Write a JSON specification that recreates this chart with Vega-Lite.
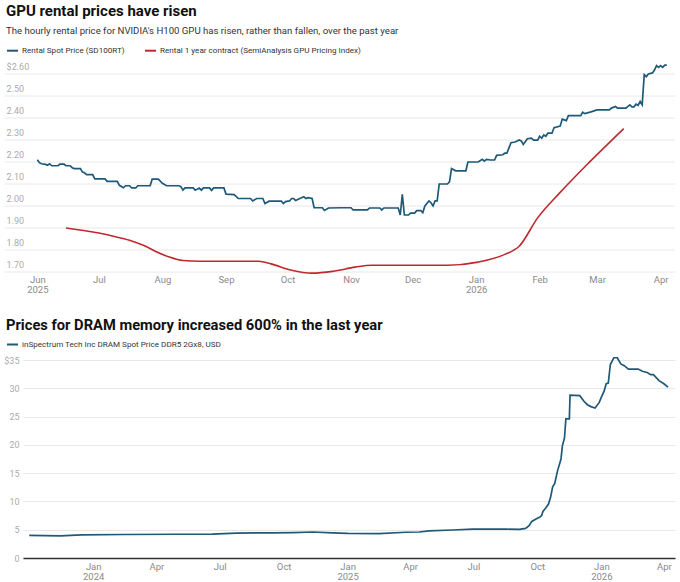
{
  "$schema": "https://vega.github.io/schema/vega-lite/v6.json",
  "padding": {"left": 3, "top": 4, "right": 0, "bottom": 0},
  "spacing": 24,
  "resolve": {"scale": {"color": "independent"}, "legend": {"color": "independent"}},
  "config": {
    "font": "Roboto",
    "view": {"stroke": null},
    "axis": {"labelFont": "Roboto", "ticks": false, "tickSize": 0, "labelOverlap": false, "labelFlush": false}
  },
  "datasets": {
    "gpu": [
      {"date": "2025-06-01", "price": 2.21, "series": "Rental Spot Price (SD100RT)"},
      {"date": "2025-06-02", "price": 2.197, "series": "Rental Spot Price (SD100RT)"},
      {"date": "2025-06-03", "price": 2.192, "series": "Rental Spot Price (SD100RT)"},
      {"date": "2025-06-05", "price": 2.189, "series": "Rental Spot Price (SD100RT)"},
      {"date": "2025-06-06", "price": 2.185, "series": "Rental Spot Price (SD100RT)"},
      {"date": "2025-06-07", "price": 2.192, "series": "Rental Spot Price (SD100RT)"},
      {"date": "2025-06-08", "price": 2.183, "series": "Rental Spot Price (SD100RT)"},
      {"date": "2025-06-11", "price": 2.183, "series": "Rental Spot Price (SD100RT)"},
      {"date": "2025-06-12", "price": 2.19, "series": "Rental Spot Price (SD100RT)"},
      {"date": "2025-06-14", "price": 2.19, "series": "Rental Spot Price (SD100RT)"},
      {"date": "2025-06-15", "price": 2.183, "series": "Rental Spot Price (SD100RT)"},
      {"date": "2025-06-17", "price": 2.183, "series": "Rental Spot Price (SD100RT)"},
      {"date": "2025-06-18", "price": 2.174, "series": "Rental Spot Price (SD100RT)"},
      {"date": "2025-06-19", "price": 2.17, "series": "Rental Spot Price (SD100RT)"},
      {"date": "2025-06-22", "price": 2.17, "series": "Rental Spot Price (SD100RT)"},
      {"date": "2025-06-23", "price": 2.154, "series": "Rental Spot Price (SD100RT)"},
      {"date": "2025-06-24", "price": 2.151, "series": "Rental Spot Price (SD100RT)"},
      {"date": "2025-06-25", "price": 2.143, "series": "Rental Spot Price (SD100RT)"},
      {"date": "2025-06-28", "price": 2.143, "series": "Rental Spot Price (SD100RT)"},
      {"date": "2025-06-29", "price": 2.123, "series": "Rental Spot Price (SD100RT)"},
      {"date": "2025-07-04", "price": 2.123, "series": "Rental Spot Price (SD100RT)"},
      {"date": "2025-07-05", "price": 2.112, "series": "Rental Spot Price (SD100RT)"},
      {"date": "2025-07-10", "price": 2.112, "series": "Rental Spot Price (SD100RT)"},
      {"date": "2025-07-11", "price": 2.094, "series": "Rental Spot Price (SD100RT)"},
      {"date": "2025-07-13", "price": 2.083, "series": "Rental Spot Price (SD100RT)"},
      {"date": "2025-07-14", "price": 2.092, "series": "Rental Spot Price (SD100RT)"},
      {"date": "2025-07-16", "price": 2.092, "series": "Rental Spot Price (SD100RT)"},
      {"date": "2025-07-17", "price": 2.082, "series": "Rental Spot Price (SD100RT)"},
      {"date": "2025-07-19", "price": 2.082, "series": "Rental Spot Price (SD100RT)"},
      {"date": "2025-07-20", "price": 2.092, "series": "Rental Spot Price (SD100RT)"},
      {"date": "2025-07-26", "price": 2.092, "series": "Rental Spot Price (SD100RT)"},
      {"date": "2025-07-27", "price": 2.122, "series": "Rental Spot Price (SD100RT)"},
      {"date": "2025-07-30", "price": 2.122, "series": "Rental Spot Price (SD100RT)"},
      {"date": "2025-08-01", "price": 2.103, "series": "Rental Spot Price (SD100RT)"},
      {"date": "2025-08-03", "price": 2.092, "series": "Rental Spot Price (SD100RT)"},
      {"date": "2025-08-09", "price": 2.092, "series": "Rental Spot Price (SD100RT)"},
      {"date": "2025-08-10", "price": 2.088, "series": "Rental Spot Price (SD100RT)"},
      {"date": "2025-08-11", "price": 2.072, "series": "Rental Spot Price (SD100RT)"},
      {"date": "2025-08-12", "price": 2.082, "series": "Rental Spot Price (SD100RT)"},
      {"date": "2025-08-16", "price": 2.082, "series": "Rental Spot Price (SD100RT)"},
      {"date": "2025-08-17", "price": 2.072, "series": "Rental Spot Price (SD100RT)"},
      {"date": "2025-08-19", "price": 2.082, "series": "Rental Spot Price (SD100RT)"},
      {"date": "2025-08-20", "price": 2.072, "series": "Rental Spot Price (SD100RT)"},
      {"date": "2025-08-21", "price": 2.082, "series": "Rental Spot Price (SD100RT)"},
      {"date": "2025-08-24", "price": 2.082, "series": "Rental Spot Price (SD100RT)"},
      {"date": "2025-08-25", "price": 2.071, "series": "Rental Spot Price (SD100RT)"},
      {"date": "2025-08-26", "price": 2.082, "series": "Rental Spot Price (SD100RT)"},
      {"date": "2025-08-31", "price": 2.082, "series": "Rental Spot Price (SD100RT)"},
      {"date": "2025-09-01", "price": 2.054, "series": "Rental Spot Price (SD100RT)"},
      {"date": "2025-09-05", "price": 2.052, "series": "Rental Spot Price (SD100RT)"},
      {"date": "2025-09-07", "price": 2.034, "series": "Rental Spot Price (SD100RT)"},
      {"date": "2025-09-13", "price": 2.034, "series": "Rental Spot Price (SD100RT)"},
      {"date": "2025-09-14", "price": 2.023, "series": "Rental Spot Price (SD100RT)"},
      {"date": "2025-09-16", "price": 2.034, "series": "Rental Spot Price (SD100RT)"},
      {"date": "2025-09-19", "price": 2.034, "series": "Rental Spot Price (SD100RT)"},
      {"date": "2025-09-20", "price": 2.011, "series": "Rental Spot Price (SD100RT)"},
      {"date": "2025-09-22", "price": 2.022, "series": "Rental Spot Price (SD100RT)"},
      {"date": "2025-09-28", "price": 2.022, "series": "Rental Spot Price (SD100RT)"},
      {"date": "2025-09-29", "price": 2.011, "series": "Rental Spot Price (SD100RT)"},
      {"date": "2025-09-30", "price": 2.02, "series": "Rental Spot Price (SD100RT)"},
      {"date": "2025-10-02", "price": 2.023, "series": "Rental Spot Price (SD100RT)"},
      {"date": "2025-10-03", "price": 2.034, "series": "Rental Spot Price (SD100RT)"},
      {"date": "2025-10-04", "price": 2.034, "series": "Rental Spot Price (SD100RT)"},
      {"date": "2025-10-05", "price": 2.025, "series": "Rental Spot Price (SD100RT)"},
      {"date": "2025-10-07", "price": 2.034, "series": "Rental Spot Price (SD100RT)"},
      {"date": "2025-10-09", "price": 2.042, "series": "Rental Spot Price (SD100RT)"},
      {"date": "2025-10-10", "price": 2.034, "series": "Rental Spot Price (SD100RT)"},
      {"date": "2025-10-11", "price": 2.038, "series": "Rental Spot Price (SD100RT)"},
      {"date": "2025-10-13", "price": 2.034, "series": "Rental Spot Price (SD100RT)"},
      {"date": "2025-10-14", "price": 1.992, "series": "Rental Spot Price (SD100RT)"},
      {"date": "2025-10-18", "price": 1.992, "series": "Rental Spot Price (SD100RT)"},
      {"date": "2025-10-19", "price": 1.98, "series": "Rental Spot Price (SD100RT)"},
      {"date": "2025-10-21", "price": 1.991, "series": "Rental Spot Price (SD100RT)"},
      {"date": "2025-10-27", "price": 1.992, "series": "Rental Spot Price (SD100RT)"},
      {"date": "2025-11-01", "price": 1.992, "series": "Rental Spot Price (SD100RT)"},
      {"date": "2025-11-02", "price": 1.982, "series": "Rental Spot Price (SD100RT)"},
      {"date": "2025-11-09", "price": 1.982, "series": "Rental Spot Price (SD100RT)"},
      {"date": "2025-11-10", "price": 1.991, "series": "Rental Spot Price (SD100RT)"},
      {"date": "2025-11-15", "price": 1.991, "series": "Rental Spot Price (SD100RT)"},
      {"date": "2025-11-16", "price": 1.982, "series": "Rental Spot Price (SD100RT)"},
      {"date": "2025-11-17", "price": 1.991, "series": "Rental Spot Price (SD100RT)"},
      {"date": "2025-11-24", "price": 1.991, "series": "Rental Spot Price (SD100RT)"},
      {"date": "2025-11-25", "price": 1.959, "series": "Rental Spot Price (SD100RT)"},
      {"date": "2025-11-26", "price": 2.053, "series": "Rental Spot Price (SD100RT)"},
      {"date": "2025-11-27", "price": 1.959, "series": "Rental Spot Price (SD100RT)"},
      {"date": "2025-11-29", "price": 1.959, "series": "Rental Spot Price (SD100RT)"},
      {"date": "2025-11-30", "price": 1.968, "series": "Rental Spot Price (SD100RT)"},
      {"date": "2025-12-02", "price": 1.968, "series": "Rental Spot Price (SD100RT)"},
      {"date": "2025-12-03", "price": 1.979, "series": "Rental Spot Price (SD100RT)"},
      {"date": "2025-12-05", "price": 1.979, "series": "Rental Spot Price (SD100RT)"},
      {"date": "2025-12-06", "price": 1.97, "series": "Rental Spot Price (SD100RT)"},
      {"date": "2025-12-07", "price": 2.0, "series": "Rental Spot Price (SD100RT)"},
      {"date": "2025-12-09", "price": 2.023, "series": "Rental Spot Price (SD100RT)"},
      {"date": "2025-12-10", "price": 2.015, "series": "Rental Spot Price (SD100RT)"},
      {"date": "2025-12-11", "price": 2.0, "series": "Rental Spot Price (SD100RT)"},
      {"date": "2025-12-12", "price": 2.023, "series": "Rental Spot Price (SD100RT)"},
      {"date": "2025-12-13", "price": 2.023, "series": "Rental Spot Price (SD100RT)"},
      {"date": "2025-12-14", "price": 2.1, "series": "Rental Spot Price (SD100RT)"},
      {"date": "2025-12-18", "price": 2.1, "series": "Rental Spot Price (SD100RT)"},
      {"date": "2025-12-19", "price": 2.11, "series": "Rental Spot Price (SD100RT)"},
      {"date": "2025-12-20", "price": 2.17, "series": "Rental Spot Price (SD100RT)"},
      {"date": "2025-12-22", "price": 2.16, "series": "Rental Spot Price (SD100RT)"},
      {"date": "2025-12-27", "price": 2.16, "series": "Rental Spot Price (SD100RT)"},
      {"date": "2025-12-28", "price": 2.2, "series": "Rental Spot Price (SD100RT)"},
      {"date": "2026-01-02", "price": 2.2, "series": "Rental Spot Price (SD100RT)"},
      {"date": "2026-01-04", "price": 2.212, "series": "Rental Spot Price (SD100RT)"},
      {"date": "2026-01-05", "price": 2.204, "series": "Rental Spot Price (SD100RT)"},
      {"date": "2026-01-06", "price": 2.212, "series": "Rental Spot Price (SD100RT)"},
      {"date": "2026-01-08", "price": 2.209, "series": "Rental Spot Price (SD100RT)"},
      {"date": "2026-01-10", "price": 2.209, "series": "Rental Spot Price (SD100RT)"},
      {"date": "2026-01-11", "price": 2.23, "series": "Rental Spot Price (SD100RT)"},
      {"date": "2026-01-14", "price": 2.233, "series": "Rental Spot Price (SD100RT)"},
      {"date": "2026-01-15", "price": 2.24, "series": "Rental Spot Price (SD100RT)"},
      {"date": "2026-01-16", "price": 2.24, "series": "Rental Spot Price (SD100RT)"},
      {"date": "2026-01-18", "price": 2.288, "series": "Rental Spot Price (SD100RT)"},
      {"date": "2026-01-20", "price": 2.291, "series": "Rental Spot Price (SD100RT)"},
      {"date": "2026-01-22", "price": 2.3, "series": "Rental Spot Price (SD100RT)"},
      {"date": "2026-01-23", "price": 2.296, "series": "Rental Spot Price (SD100RT)"},
      {"date": "2026-01-24", "price": 2.28, "series": "Rental Spot Price (SD100RT)"},
      {"date": "2026-01-26", "price": 2.306, "series": "Rental Spot Price (SD100RT)"},
      {"date": "2026-01-28", "price": 2.308, "series": "Rental Spot Price (SD100RT)"},
      {"date": "2026-01-29", "price": 2.299, "series": "Rental Spot Price (SD100RT)"},
      {"date": "2026-01-31", "price": 2.299, "series": "Rental Spot Price (SD100RT)"},
      {"date": "2026-02-01", "price": 2.317, "series": "Rental Spot Price (SD100RT)"},
      {"date": "2026-02-02", "price": 2.308, "series": "Rental Spot Price (SD100RT)"},
      {"date": "2026-02-03", "price": 2.323, "series": "Rental Spot Price (SD100RT)"},
      {"date": "2026-02-04", "price": 2.317, "series": "Rental Spot Price (SD100RT)"},
      {"date": "2026-02-05", "price": 2.331, "series": "Rental Spot Price (SD100RT)"},
      {"date": "2026-02-07", "price": 2.331, "series": "Rental Spot Price (SD100RT)"},
      {"date": "2026-02-08", "price": 2.356, "series": "Rental Spot Price (SD100RT)"},
      {"date": "2026-02-11", "price": 2.363, "series": "Rental Spot Price (SD100RT)"},
      {"date": "2026-02-12", "price": 2.395, "series": "Rental Spot Price (SD100RT)"},
      {"date": "2026-02-14", "price": 2.388, "series": "Rental Spot Price (SD100RT)"},
      {"date": "2026-02-15", "price": 2.411, "series": "Rental Spot Price (SD100RT)"},
      {"date": "2026-02-21", "price": 2.411, "series": "Rental Spot Price (SD100RT)"},
      {"date": "2026-02-22", "price": 2.426, "series": "Rental Spot Price (SD100RT)"},
      {"date": "2026-02-23", "price": 2.42, "series": "Rental Spot Price (SD100RT)"},
      {"date": "2026-02-26", "price": 2.428, "series": "Rental Spot Price (SD100RT)"},
      {"date": "2026-03-01", "price": 2.437, "series": "Rental Spot Price (SD100RT)"},
      {"date": "2026-03-07", "price": 2.437, "series": "Rental Spot Price (SD100RT)"},
      {"date": "2026-03-08", "price": 2.445, "series": "Rental Spot Price (SD100RT)"},
      {"date": "2026-03-10", "price": 2.452, "series": "Rental Spot Price (SD100RT)"},
      {"date": "2026-03-11", "price": 2.445, "series": "Rental Spot Price (SD100RT)"},
      {"date": "2026-03-15", "price": 2.445, "series": "Rental Spot Price (SD100RT)"},
      {"date": "2026-03-17", "price": 2.46, "series": "Rental Spot Price (SD100RT)"},
      {"date": "2026-03-18", "price": 2.451, "series": "Rental Spot Price (SD100RT)"},
      {"date": "2026-03-19", "price": 2.451, "series": "Rental Spot Price (SD100RT)"},
      {"date": "2026-03-20", "price": 2.463, "series": "Rental Spot Price (SD100RT)"},
      {"date": "2026-03-21", "price": 2.458, "series": "Rental Spot Price (SD100RT)"},
      {"date": "2026-03-22", "price": 2.475, "series": "Rental Spot Price (SD100RT)"},
      {"date": "2026-03-23", "price": 2.46, "series": "Rental Spot Price (SD100RT)"},
      {"date": "2026-03-24", "price": 2.597, "series": "Rental Spot Price (SD100RT)"},
      {"date": "2026-03-25", "price": 2.588, "series": "Rental Spot Price (SD100RT)"},
      {"date": "2026-03-26", "price": 2.6, "series": "Rental Spot Price (SD100RT)"},
      {"date": "2026-03-28", "price": 2.605, "series": "Rental Spot Price (SD100RT)"},
      {"date": "2026-03-29", "price": 2.618, "series": "Rental Spot Price (SD100RT)"},
      {"date": "2026-03-30", "price": 2.638, "series": "Rental Spot Price (SD100RT)"},
      {"date": "2026-03-31", "price": 2.63, "series": "Rental Spot Price (SD100RT)"},
      {"date": "2026-04-01", "price": 2.638, "series": "Rental Spot Price (SD100RT)"},
      {"date": "2026-04-02", "price": 2.63, "series": "Rental Spot Price (SD100RT)"},
      {"date": "2026-04-03", "price": 2.64, "series": "Rental Spot Price (SD100RT)"},
      {"date": "2026-04-04", "price": 2.64, "series": "Rental Spot Price (SD100RT)"},
      {"date": "2025-06-15", "price": 1.9, "series": "Rental 1 year contract (SemiAnalysis GPU Pricing Index)"},
      {"date": "2025-07-01", "price": 1.877, "series": "Rental 1 year contract (SemiAnalysis GPU Pricing Index)"},
      {"date": "2025-07-10", "price": 1.858, "series": "Rental 1 year contract (SemiAnalysis GPU Pricing Index)"},
      {"date": "2025-07-17", "price": 1.841, "series": "Rental 1 year contract (SemiAnalysis GPU Pricing Index)"},
      {"date": "2025-07-23", "price": 1.82, "series": "Rental 1 year contract (SemiAnalysis GPU Pricing Index)"},
      {"date": "2025-07-29", "price": 1.792, "series": "Rental 1 year contract (SemiAnalysis GPU Pricing Index)"},
      {"date": "2025-08-04", "price": 1.769, "series": "Rental 1 year contract (SemiAnalysis GPU Pricing Index)"},
      {"date": "2025-08-11", "price": 1.752, "series": "Rental 1 year contract (SemiAnalysis GPU Pricing Index)"},
      {"date": "2025-08-19", "price": 1.749, "series": "Rental 1 year contract (SemiAnalysis GPU Pricing Index)"},
      {"date": "2025-09-17", "price": 1.749, "series": "Rental 1 year contract (SemiAnalysis GPU Pricing Index)"},
      {"date": "2025-09-23", "price": 1.737, "series": "Rental 1 year contract (SemiAnalysis GPU Pricing Index)"},
      {"date": "2025-10-03", "price": 1.708, "series": "Rental 1 year contract (SemiAnalysis GPU Pricing Index)"},
      {"date": "2025-10-13", "price": 1.695, "series": "Rental 1 year contract (SemiAnalysis GPU Pricing Index)"},
      {"date": "2025-10-23", "price": 1.703, "series": "Rental 1 year contract (SemiAnalysis GPU Pricing Index)"},
      {"date": "2025-11-03", "price": 1.722, "series": "Rental 1 year contract (SemiAnalysis GPU Pricing Index)"},
      {"date": "2025-11-11", "price": 1.731, "series": "Rental 1 year contract (SemiAnalysis GPU Pricing Index)"},
      {"date": "2025-12-18", "price": 1.731, "series": "Rental 1 year contract (SemiAnalysis GPU Pricing Index)"},
      {"date": "2026-01-02", "price": 1.745, "series": "Rental 1 year contract (SemiAnalysis GPU Pricing Index)"},
      {"date": "2026-01-15", "price": 1.78, "series": "Rental 1 year contract (SemiAnalysis GPU Pricing Index)"},
      {"date": "2026-01-22", "price": 1.817, "series": "Rental 1 year contract (SemiAnalysis GPU Pricing Index)"},
      {"date": "2026-01-31", "price": 1.946, "series": "Rental 1 year contract (SemiAnalysis GPU Pricing Index)"},
      {"date": "2026-02-11", "price": 2.062, "series": "Rental 1 year contract (SemiAnalysis GPU Pricing Index)"},
      {"date": "2026-02-26", "price": 2.206, "series": "Rental 1 year contract (SemiAnalysis GPU Pricing Index)"},
      {"date": "2026-03-14", "price": 2.352, "series": "Rental 1 year contract (SemiAnalysis GPU Pricing Index)"}
    ],
    "gridlevels": [
      {"level": 1.7, "label": "1.70"}, {"level": 1.8, "label": "1.80"}, {"level": 1.9, "label": "1.90"},
      {"level": 2.0, "label": "2.00"}, {"level": 2.1, "label": "2.10"}, {"level": 2.2, "label": "2.20"},
      {"level": 2.3, "label": "2.30"}, {"level": 2.4, "label": "2.40"}, {"level": 2.5, "label": "2.50"},
      {"level": 2.6, "label": "$2.60"}
    ],
    "dram": [
      {"date": "2023-10-01", "price": 4.0, "series": "inSpectrum Tech Inc DRAM Spot Price DDR5 2Gx8, USD"},
      {"date": "2023-11-15", "price": 3.92, "series": "inSpectrum Tech Inc DRAM Spot Price DDR5 2Gx8, USD"},
      {"date": "2023-12-15", "price": 4.1, "series": "inSpectrum Tech Inc DRAM Spot Price DDR5 2Gx8, USD"},
      {"date": "2024-02-15", "price": 4.15, "series": "inSpectrum Tech Inc DRAM Spot Price DDR5 2Gx8, USD"},
      {"date": "2024-05-01", "price": 4.2, "series": "inSpectrum Tech Inc DRAM Spot Price DDR5 2Gx8, USD"},
      {"date": "2024-06-20", "price": 4.22, "series": "inSpectrum Tech Inc DRAM Spot Price DDR5 2Gx8, USD"},
      {"date": "2024-07-25", "price": 4.4, "series": "inSpectrum Tech Inc DRAM Spot Price DDR5 2Gx8, USD"},
      {"date": "2024-09-15", "price": 4.45, "series": "inSpectrum Tech Inc DRAM Spot Price DDR5 2Gx8, USD"},
      {"date": "2024-10-15", "price": 4.5, "series": "inSpectrum Tech Inc DRAM Spot Price DDR5 2Gx8, USD"},
      {"date": "2024-11-12", "price": 4.6, "series": "inSpectrum Tech Inc DRAM Spot Price DDR5 2Gx8, USD"},
      {"date": "2024-12-10", "price": 4.45, "series": "inSpectrum Tech Inc DRAM Spot Price DDR5 2Gx8, USD"},
      {"date": "2025-01-01", "price": 4.35, "series": "inSpectrum Tech Inc DRAM Spot Price DDR5 2Gx8, USD"},
      {"date": "2025-02-15", "price": 4.3, "series": "inSpectrum Tech Inc DRAM Spot Price DDR5 2Gx8, USD"},
      {"date": "2025-03-26", "price": 4.55, "series": "inSpectrum Tech Inc DRAM Spot Price DDR5 2Gx8, USD"},
      {"date": "2025-04-14", "price": 4.6, "series": "inSpectrum Tech Inc DRAM Spot Price DDR5 2Gx8, USD"},
      {"date": "2025-04-28", "price": 4.8, "series": "inSpectrum Tech Inc DRAM Spot Price DDR5 2Gx8, USD"},
      {"date": "2025-06-01", "price": 4.95, "series": "inSpectrum Tech Inc DRAM Spot Price DDR5 2Gx8, USD"},
      {"date": "2025-06-30", "price": 5.1, "series": "inSpectrum Tech Inc DRAM Spot Price DDR5 2Gx8, USD"},
      {"date": "2025-08-17", "price": 5.1, "series": "inSpectrum Tech Inc DRAM Spot Price DDR5 2Gx8, USD"},
      {"date": "2025-09-05", "price": 5.05, "series": "inSpectrum Tech Inc DRAM Spot Price DDR5 2Gx8, USD"},
      {"date": "2025-09-14", "price": 5.24, "series": "inSpectrum Tech Inc DRAM Spot Price DDR5 2Gx8, USD"},
      {"date": "2025-09-19", "price": 5.7, "series": "inSpectrum Tech Inc DRAM Spot Price DDR5 2Gx8, USD"},
      {"date": "2025-09-23", "price": 6.47, "series": "inSpectrum Tech Inc DRAM Spot Price DDR5 2Gx8, USD"},
      {"date": "2025-09-29", "price": 6.89, "series": "inSpectrum Tech Inc DRAM Spot Price DDR5 2Gx8, USD"},
      {"date": "2025-10-04", "price": 7.18, "series": "inSpectrum Tech Inc DRAM Spot Price DDR5 2Gx8, USD"},
      {"date": "2025-10-07", "price": 7.48, "series": "inSpectrum Tech Inc DRAM Spot Price DDR5 2Gx8, USD"},
      {"date": "2025-10-09", "price": 8.24, "series": "inSpectrum Tech Inc DRAM Spot Price DDR5 2Gx8, USD"},
      {"date": "2025-10-13", "price": 8.83, "series": "inSpectrum Tech Inc DRAM Spot Price DDR5 2Gx8, USD"},
      {"date": "2025-10-17", "price": 9.54, "series": "inSpectrum Tech Inc DRAM Spot Price DDR5 2Gx8, USD"},
      {"date": "2025-10-20", "price": 10.72, "series": "inSpectrum Tech Inc DRAM Spot Price DDR5 2Gx8, USD"},
      {"date": "2025-10-23", "price": 12.6, "series": "inSpectrum Tech Inc DRAM Spot Price DDR5 2Gx8, USD"},
      {"date": "2025-10-26", "price": 13.2, "series": "inSpectrum Tech Inc DRAM Spot Price DDR5 2Gx8, USD"},
      {"date": "2025-10-30", "price": 15.4, "series": "inSpectrum Tech Inc DRAM Spot Price DDR5 2Gx8, USD"},
      {"date": "2025-11-04", "price": 17.5, "series": "inSpectrum Tech Inc DRAM Spot Price DDR5 2Gx8, USD"},
      {"date": "2025-11-06", "price": 19.86, "series": "inSpectrum Tech Inc DRAM Spot Price DDR5 2Gx8, USD"},
      {"date": "2025-11-09", "price": 21.2, "series": "inSpectrum Tech Inc DRAM Spot Price DDR5 2Gx8, USD"},
      {"date": "2025-11-11", "price": 24.6, "series": "inSpectrum Tech Inc DRAM Spot Price DDR5 2Gx8, USD"},
      {"date": "2025-11-16", "price": 24.6, "series": "inSpectrum Tech Inc DRAM Spot Price DDR5 2Gx8, USD"},
      {"date": "2025-11-17", "price": 28.8, "series": "inSpectrum Tech Inc DRAM Spot Price DDR5 2Gx8, USD"},
      {"date": "2025-12-01", "price": 28.7, "series": "inSpectrum Tech Inc DRAM Spot Price DDR5 2Gx8, USD"},
      {"date": "2025-12-07", "price": 27.7, "series": "inSpectrum Tech Inc DRAM Spot Price DDR5 2Gx8, USD"},
      {"date": "2025-12-12", "price": 27.1, "series": "inSpectrum Tech Inc DRAM Spot Price DDR5 2Gx8, USD"},
      {"date": "2025-12-17", "price": 26.76, "series": "inSpectrum Tech Inc DRAM Spot Price DDR5 2Gx8, USD"},
      {"date": "2025-12-23", "price": 26.5, "series": "inSpectrum Tech Inc DRAM Spot Price DDR5 2Gx8, USD"},
      {"date": "2025-12-29", "price": 27.5, "series": "inSpectrum Tech Inc DRAM Spot Price DDR5 2Gx8, USD"},
      {"date": "2026-01-02", "price": 28.7, "series": "inSpectrum Tech Inc DRAM Spot Price DDR5 2Gx8, USD"},
      {"date": "2026-01-05", "price": 29.5, "series": "inSpectrum Tech Inc DRAM Spot Price DDR5 2Gx8, USD"},
      {"date": "2026-01-08", "price": 30.8, "series": "inSpectrum Tech Inc DRAM Spot Price DDR5 2Gx8, USD"},
      {"date": "2026-01-11", "price": 30.9, "series": "inSpectrum Tech Inc DRAM Spot Price DDR5 2Gx8, USD"},
      {"date": "2026-01-14", "price": 34.2, "series": "inSpectrum Tech Inc DRAM Spot Price DDR5 2Gx8, USD"},
      {"date": "2026-01-19", "price": 35.4, "series": "inSpectrum Tech Inc DRAM Spot Price DDR5 2Gx8, USD"},
      {"date": "2026-01-24", "price": 35.4, "series": "inSpectrum Tech Inc DRAM Spot Price DDR5 2Gx8, USD"},
      {"date": "2026-01-29", "price": 34.3, "series": "inSpectrum Tech Inc DRAM Spot Price DDR5 2Gx8, USD"},
      {"date": "2026-02-03", "price": 34.0, "series": "inSpectrum Tech Inc DRAM Spot Price DDR5 2Gx8, USD"},
      {"date": "2026-02-09", "price": 33.4, "series": "inSpectrum Tech Inc DRAM Spot Price DDR5 2Gx8, USD"},
      {"date": "2026-02-23", "price": 33.4, "series": "inSpectrum Tech Inc DRAM Spot Price DDR5 2Gx8, USD"},
      {"date": "2026-03-01", "price": 33.0, "series": "inSpectrum Tech Inc DRAM Spot Price DDR5 2Gx8, USD"},
      {"date": "2026-03-08", "price": 32.8, "series": "inSpectrum Tech Inc DRAM Spot Price DDR5 2Gx8, USD"},
      {"date": "2026-03-13", "price": 32.4, "series": "inSpectrum Tech Inc DRAM Spot Price DDR5 2Gx8, USD"},
      {"date": "2026-03-17", "price": 32.4, "series": "inSpectrum Tech Inc DRAM Spot Price DDR5 2Gx8, USD"},
      {"date": "2026-03-25", "price": 31.35, "series": "inSpectrum Tech Inc DRAM Spot Price DDR5 2Gx8, USD"},
      {"date": "2026-04-01", "price": 30.8, "series": "inSpectrum Tech Inc DRAM Spot Price DDR5 2Gx8, USD"},
      {"date": "2026-04-07", "price": 30.2, "series": "inSpectrum Tech Inc DRAM Spot Price DDR5 2Gx8, USD"}
    ]
  },
  "vconcat": [
    {
      "width": 652,
      "height": 198,
      "title": {
        "text": "GPU rental prices have risen",
        "subtitle": "The hourly rental price for NVIDIA's H100 GPU has risen, rather than fallen, over the past year",
        "anchor": "start",
        "frame": "group",
        "dx": -17,
        "fontSize": 15,
        "fontWeight": "bold",
        "color": "#111111",
        "subtitleFontSize": 9.6,
        "subtitleColor": "#333333",
        "subtitlePadding": 7,
        "offset": 8
      },
      "layer": [
        {
          "data": {"name": "gridlevels"},
          "mark": {"type": "rule", "color": "#e8e8e8", "strokeWidth": 1},
          "encoding": {
            "y": {
              "field": "level", "type": "quantitative", "axis": null,
              "scale": {"domain": [1.7, 2.6], "nice": false, "zero": false}
            },
            "x": {"datum": {"year": 2025, "month": "may", "date": 16}, "type": "temporal"},
            "x2": {"datum": {"year": 2026, "month": "apr", "date": 8}}
          }
        },
        {
          "data": {"name": "gridlevels"},
          "mark": {"type": "text", "align": "left", "baseline": "alphabetic", "dy": -4, "fontSize": 9, "color": "#ababab", "font": "Roboto"},
          "encoding": {
            "y": {"field": "level", "type": "quantitative", "axis": null},
            "x": {"datum": {"year": 2025, "month": "may", "date": 17}, "type": "temporal"},
            "text": {"field": "label"}
          }
        },
        {
          "data": {"name": "gpu"},
          "transform": [{"filter": "datum.series == 'Rental Spot Price (SD100RT)'"}],
          "mark": {"type": "line", "strokeWidth": 1.7, "interpolate": "linear"},
          "encoding": {
            "x": {
              "field": "date", "type": "temporal", "title": null,
              "scale": {"domain": [{"year": 2025, "month": "may", "date": 25}, {"year": 2026, "month": "apr", "date": 8}]},
              "axis": {
                "grid": false, "domain": false, "labelOverlap": false,
                "tickCount": {"interval": "month", "step": 1},
                "labelExpr": "month(datum.value) == 0 || datum.index == 0 ? [timeFormat(datum.value, '%b'), timeFormat(datum.value, '%Y')] : timeFormat(datum.value, '%b')",
                "labelFontSize": 9.5, "labelColor": "#8a8a8a", "labelPadding": 2, "labelLineHeight": 10.5
              }
            },
            "y": {"field": "price", "type": "quantitative", "axis": null},
            "color": {
              "field": "series", "type": "nominal",
              "scale": {
                "domain": ["Rental Spot Price (SD100RT)", "Rental 1 year contract (SemiAnalysis GPU Pricing Index)"],
                "range": ["#1e5a78", "#c0282e"]
              },
              "legend": {
                "orient": "none", "legendX": -17, "legendY": -30, "direction": "horizontal", "columns": 2,
                "title": null, "symbolType": "stroke", "symbolStrokeWidth": 2, "symbolSize": 121,
                "labelFontSize": 8.1, "labelColor": "#333333", "labelOffset": 3, "columnPadding": 16, "labelLimit": 400
              }
            }
          }
        },
        {
          "data": {"name": "gpu"},
          "transform": [{"filter": "datum.series != 'Rental Spot Price (SD100RT)'"}],
          "mark": {"type": "line", "strokeWidth": 1.6, "interpolate": "monotone"},
          "encoding": {
            "x": {"field": "date", "type": "temporal"},
            "y": {"field": "price", "type": "quantitative", "axis": null},
            "color": {"field": "series", "type": "nominal"}
          }
        }
      ]
    },
    {
      "width": 652,
      "height": 198,
      "title": {
        "text": "Prices for DRAM memory increased 600% in the last year",
        "anchor": "start",
        "frame": "group",
        "dx": -17,
        "fontSize": 14.7,
        "fontWeight": "bold",
        "color": "#111111",
        "offset": 5
      },
      "data": {"name": "dram"},
      "mark": {"type": "line", "strokeWidth": 1.7},
      "encoding": {
        "x": {
          "field": "date", "type": "temporal", "title": null,
          "scale": {"domain": [{"year": 2023, "month": "sep", "date": 22}, {"year": 2026, "month": "apr", "date": 17}]},
          "axis": {
            "grid": false, "domain": true, "domainColor": "#333333", "domainWidth": 1.5, "labelOverlap": false,
            "values": [
              {"year": 2024, "month": "jan", "date": 1}, {"year": 2024, "month": "apr", "date": 1},
              {"year": 2024, "month": "jul", "date": 1}, {"year": 2024, "month": "oct", "date": 1},
              {"year": 2025, "month": "jan", "date": 1}, {"year": 2025, "month": "apr", "date": 1},
              {"year": 2025, "month": "jul", "date": 1}, {"year": 2025, "month": "oct", "date": 1},
              {"year": 2026, "month": "jan", "date": 1}, {"year": 2026, "month": "apr", "date": 1}
            ],
            "labelExpr": "month(datum.value) == 0 ? [timeFormat(datum.value, '%b'), timeFormat(datum.value, '%Y')] : timeFormat(datum.value, '%b')",
            "labelFontSize": 9.5, "labelColor": "#8a8a8a", "labelPadding": 3, "labelLineHeight": 10.5
          }
        },
        "y": {
          "field": "price", "type": "quantitative", "title": null,
          "scale": {"domain": [0, 35], "nice": false},
          "axis": {
            "grid": true, "gridColor": "#e8e8e8", "domain": false, "labelOverlap": false,
            "values": [0, 5, 10, 15, 20, 25, 30, 35],
            "labelExpr": "datum.value == 35 ? '$35' : datum.label",
            "labelAlign": "right", "labelBaseline": "middle", "labelPadding": 4,
            "labelFontSize": 9, "labelColor": "#ababab"
          }
        },
        "color": {
          "field": "series", "type": "nominal",
          "scale": {"range": ["#1e5a78"]},
          "legend": {
            "orient": "none", "legendX": -17, "legendY": -22, "direction": "horizontal",
            "title": null, "symbolType": "stroke", "symbolStrokeWidth": 2, "symbolSize": 121,
            "labelFontSize": 8.1, "labelColor": "#333333", "labelOffset": 3, "labelLimit": 400
          }
        }
      }
    }
  ]
}
